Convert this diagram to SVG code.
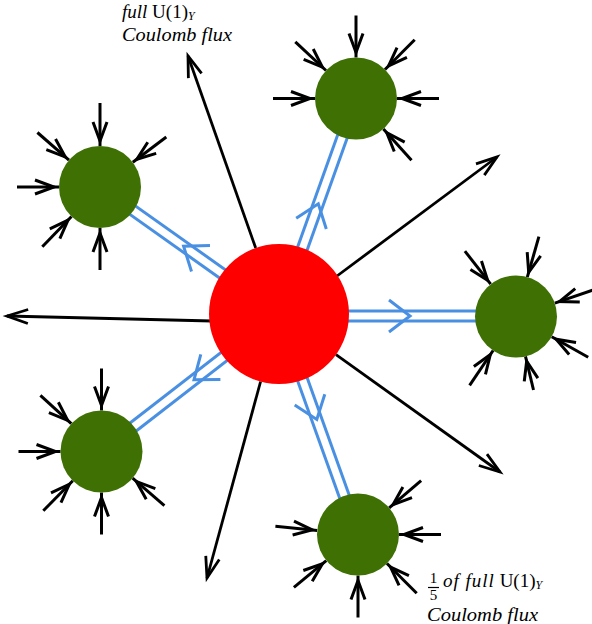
<svg xmlns="http://www.w3.org/2000/svg" width="592" height="624" viewBox="0 0 592 624">
<style>
.sm{stroke:#000;stroke-width:3;fill:none;marker-end:url(#hs)}
.lg{stroke:#000;stroke-width:2.8;fill:none;marker-end:url(#hl)}
.bl{stroke:#4a90e2;stroke-width:3;fill:none}
.gr{fill:#3e7004}
.txt{font-family:"Liberation Serif","DejaVu Serif",serif;font-size:19px;fill:#000}
.it{font-style:italic}
</style>
<defs>
<marker id="hs" markerUnits="userSpaceOnUse" viewBox="-22 -10 30 20" refX="5" refY="0" markerWidth="30" markerHeight="20" orient="auto" overflow="visible">
<path d="M-19,-7 L0,0 L-19,7" fill="none" stroke="#000" stroke-width="3"/>
</marker>
<marker id="hl" markerUnits="userSpaceOnUse" viewBox="-24 -10 30 20" refX="0" refY="0" markerWidth="30" markerHeight="20" orient="auto" overflow="visible">
<path d="M-21,-7 L0,0 L-21,7" fill="none" stroke="#000" stroke-width="2.8"/>
</marker>
</defs>
<g id="connectors">
<g id="flux-tubes">
<line class="bl" x1="283.7" y1="315.7" x2="360.7" y2="100.2"/>
<line class="bl" x1="274.3" y1="312.3" x2="351.3" y2="96.8"/>
<polyline class="bl" points="326.3,229 318.3,203.8 296.2,218.2"/>
<line class="bl" x1="281.9" y1="309.9" x2="102.9" y2="182.9"/>
<line class="bl" x1="276.1" y1="318.1" x2="97.1" y2="191.1"/>
<polyline class="bl" points="210,245.5 183.6,246.3 191.5,271.5"/>
<line class="bl" x1="279" y1="321" x2="516" y2="321"/>
<line class="bl" x1="279" y1="311" x2="516" y2="311"/>
<polyline class="bl" points="389,300 410,316 389,332"/>
<line class="bl" x1="282.1" y1="318" x2="104.6" y2="455.5"/>
<line class="bl" x1="275.9" y1="310" x2="98.4" y2="447.5"/>
<polyline class="bl" points="220.4,379.6 194,379.8 200.8,354.3"/>
<line class="bl" x1="274.3" y1="315.7" x2="353.3" y2="536.2"/>
<line class="bl" x1="283.7" y1="312.3" x2="362.7" y2="532.8"/>
<polyline class="bl" points="294.7,405 316.8,419.4 324.8,394.2"/>
</g>
<g id="coulomb-flux">
<line class="lg" x1="255.7" y1="248" x2="188" y2="56"/>
<line class="lg" x1="337" y1="276" x2="497" y2="157"/>
<line class="lg" x1="212" y1="321" x2="7" y2="316"/>
<line class="lg" x1="336" y1="354.7" x2="500" y2="472"/>
<line class="lg" x1="260.6" y1="381.5" x2="207" y2="578"/>
</g>
<g id="incoming-flux">
<line class="sm" x1="439" y1="98.5" x2="397" y2="98.5"/>
<line class="sm" x1="411.5" y1="160.2" x2="383.4" y2="129"/>
<line class="sm" x1="273" y1="98.5" x2="315" y2="98.5"/>
<line class="sm" x1="295.3" y1="41.9" x2="326" y2="70.5"/>
<line class="sm" x1="356" y1="15.5" x2="356" y2="57.5"/>
<line class="sm" x1="414.7" y1="39.8" x2="385" y2="69.5"/>

<line class="sm" x1="100" y1="270" x2="100" y2="228"/>
<line class="sm" x1="42.3" y1="246.7" x2="71.5" y2="216.5"/>
<line class="sm" x1="17" y1="187" x2="59" y2="187"/>
<line class="sm" x1="37.4" y1="132.5" x2="69" y2="160.1"/>
<line class="sm" x1="100" y1="103" x2="100" y2="146"/>
<line class="sm" x1="166.3" y1="137" x2="132.8" y2="162.3"/>

<line class="sm" x1="464.9" y1="251.1" x2="490.7" y2="284.2"/>
<line class="sm" x1="538.9" y1="236.7" x2="527.3" y2="277.1"/>
<line class="sm" x1="594.5" y1="289.5" x2="554.8" y2="303.1"/>
<line class="sm" x1="588.2" y1="357.3" x2="551.7" y2="336.7"/>
<line class="sm" x1="533.5" y1="390" x2="525.5" y2="356.4"/>
<line class="sm" x1="469.6" y1="385.3" x2="493.1" y2="350.5"/>

<line class="sm" x1="164.4" y1="505.6" x2="132.6" y2="478.2"/>
<line class="sm" x1="101.5" y1="534.5" x2="101.5" y2="492.5"/>
<line class="sm" x1="43.3" y1="510.7" x2="72.8" y2="480.7"/>
<line class="sm" x1="18.5" y1="451.5" x2="60.5" y2="451.5"/>
<line class="sm" x1="40.4" y1="395.3" x2="71.3" y2="423.7"/>
<line class="sm" x1="101.5" y1="368.5" x2="101.5" y2="410.5"/>

<line class="sm" x1="421.1" y1="480.6" x2="389.2" y2="507.9"/>
<line class="sm" x1="441" y1="534.5" x2="399" y2="534.5"/>
<line class="sm" x1="416.7" y1="593.2" x2="387" y2="563.5"/>
<line class="sm" x1="358" y1="617.5" x2="358" y2="575.5"/>
<line class="sm" x1="293.9" y1="587.3" x2="326.3" y2="560.6"/>
<line class="sm" x1="275.4" y1="526.3" x2="317.2" y2="530.4"/>
</g>
</g>
<g id="center-charge"><circle cx="279" cy="314" r="70" fill="#ff0000"/></g>
<g id="node-top"><circle class="gr" cx="356" cy="98.5" r="41"/></g>
<g id="node-upper-left"><circle class="gr" cx="100" cy="187" r="41"/></g>
<g id="node-right"><circle class="gr" cx="516" cy="316.5" r="41"/></g>
<g id="node-lower-left"><circle class="gr" cx="101.5" cy="451.5" r="41"/></g>
<g id="node-bottom"><circle class="gr" cx="358" cy="534.5" r="41"/></g>
<g id="label-top">
<text class="txt" x="122" y="18"><tspan class="it">full</tspan> U(1)<tspan class="it" style="font-size:12px" dy="2">Y</tspan></text>
<text class="txt it" x="122" y="41" textLength="110" lengthAdjust="spacingAndGlyphs">Coulomb flux</text>
</g>
<g id="label-bottom">
<text class="txt" x="433.5" y="583" text-anchor="middle" style="font-size:15px">1</text>
<line x1="428" y1="587.5" x2="439" y2="587.5" stroke="#000" stroke-width="1.2"/>
<text class="txt" x="433.5" y="600" text-anchor="middle" style="font-size:15px">5</text>
<text class="txt" x="443" y="587"><tspan class="it" letter-spacing="1">of full</tspan> U(1)<tspan class="it" style="font-size:12px" dy="2">Y</tspan></text>
<text class="txt it" x="427" y="621" textLength="111" lengthAdjust="spacingAndGlyphs">Coulomb flux</text>
</g>
</svg>
